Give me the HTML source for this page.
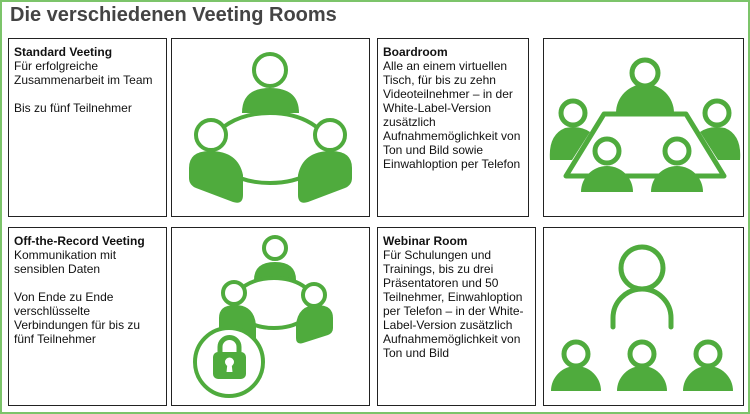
<!DOCTYPE html>
<html><head><meta charset="utf-8"><style>
body{margin:0;width:750px;height:414px;background:#fff;position:relative;overflow:hidden;font-family:"Liberation Sans",sans-serif;}
.frame{position:absolute;left:0;top:0;width:746px;height:410px;border:2px solid #7cc46a;}
h1{position:absolute;left:10px;top:4px;margin:0;font-size:20px;font-weight:bold;color:#444;}
.box{position:absolute;border:1.5px solid #222;box-sizing:border-box;background:#fff;}
.t{font-size:12px;line-height:14px;color:#111;padding:6px 4px 0 5px;}
.t b{font-weight:bold;}
svg{position:absolute;left:0;top:0;}
</style></head><body>
<div class="frame"></div>
<h1>Die verschiedenen Veeting Rooms</h1>
<div class="box t" style="left:8px;top:38px;width:159px;height:179px"><b>Standard Veeting</b><br>Für erfolgreiche<br>Zusammenarbeit im Team<br><br>Bis zu fünf Teilnehmer</div>
<div class="box" style="left:171px;top:38px;width:199px;height:179px"></div>
<div class="box t" style="left:377px;top:38px;width:152px;height:179px"><b>Boardroom</b><br>Alle an einem virtuellen<br>Tisch, für bis zu zehn<br>Videoteilnehmer – in der<br>White-Label-Version<br>zusätzlich<br>Aufnahmemöglichkeit von<br>Ton und Bild sowie<br>Einwahloption per Telefon</div>
<div class="box" style="left:543px;top:38px;width:201px;height:179px"></div>
<div class="box t" style="left:8px;top:227px;width:159px;height:179px"><b>Off-the-Record Veeting</b><br>Kommunikation mit<br>sensiblen Daten<br><br>Von Ende zu Ende<br>verschlüsselte<br>Verbindungen für bis zu<br>fünf Teilnehmer</div>
<div class="box" style="left:171px;top:227px;width:199px;height:179px"></div>
<div class="box t" style="left:377px;top:227px;width:159px;height:179px"><b>Webinar Room</b><br>Für Schulungen und<br>Trainings, bis zu drei<br>Präsentatoren und 50<br>Teilnehmer, Einwahloption<br>per Telefon – in der White-<br>Label-Version zusätzlich<br>Aufnahmemöglichkeit von<br>Ton und Bild</div>
<div class="box" style="left:543px;top:227px;width:201px;height:179px"></div>

<svg width="750" height="414" fill="#4fab3d" stroke="#4fab3d">
<g>
<path d="M242 113 Q242 88 270 88 Q299 88 299 113 Z" stroke="none"/>
<ellipse cx="270" cy="148" rx="58" ry="35" fill="none" stroke-width="4"/>
<circle cx="270" cy="70" r="16" fill="#fff" stroke-width="4"/>
<path d="M189 168 Q189 151 210 151 Q238 151 243 175 L243 195 Q243 205 233 202 L196 188 Q189 185 189 178 Z" stroke="none"/>
<path d="M352 168 Q352 151 331 151 Q303 151 298 175 L298 195 Q298 205 308 202 L345 188 Q352 185 352 178 Z" stroke="none"/>
<circle cx="211" cy="135" r="15" fill="#fff" stroke-width="4"/>
<circle cx="330" cy="135" r="15" fill="#fff" stroke-width="4"/>
</g>
<g>
<path d="M616 113 A29 29 0 0 1 674 113 Z" stroke="none"/>
<circle cx="645" cy="73" r="13" fill="#fff" stroke-width="5"/>
<path d="M550 160 Q548 135 565 128 Q580 125 590 132 L572 160 Z" stroke="none"/>
<path d="M740 160 Q742 135 725 128 Q710 125 700 132 L718 160 Z" stroke="none"/>
<circle cx="573" cy="113" r="12" fill="#fff" stroke-width="5"/>
<circle cx="717" cy="113" r="12" fill="#fff" stroke-width="5"/>
<polygon points="604,114 686,114 724,176 566,176" fill="none" stroke-width="5" stroke-linejoin="round"/>
<path d="M581 192 A26 26 0 0 1 633 192 Z" stroke="none"/>
<path d="M651 192 A26 26 0 0 1 703 192 Z" stroke="none"/>
<circle cx="607" cy="151" r="12" fill="#fff" stroke-width="5"/>
<circle cx="677" cy="151" r="12" fill="#fff" stroke-width="5"/>
</g>
<g>
<path d="M254 280 Q254 262 275 262 Q296 262 296 280 Z" stroke="none"/>
<circle cx="275" cy="248" r="11" fill="#fff" stroke-width="4"/>
<ellipse cx="274" cy="303" rx="40" ry="25" fill="none" stroke-width="4"/>
<path d="M219 318 Q219 305 235 305 Q254 305 256 325 L256 345 L219 345 Z" stroke="none"/>
<path d="M333 318 Q333 305 317 305 Q298 305 296 325 L296 338 Q296 345 303 343 L328 335 Q333 333 333 328 Z" stroke="none"/>
<circle cx="234" cy="293" r="11" fill="#fff" stroke-width="4"/>
<circle cx="314" cy="295" r="11" fill="#fff" stroke-width="4"/>
<circle cx="229" cy="362" r="34" fill="#fff" stroke-width="4"/>
<path d="M220 353 V347 A9.5 9.5 0 0 1 239 347 V353" fill="none" stroke-width="5"/>
<rect x="213" y="352" width="33" height="27" rx="5" stroke="none"/>
<circle cx="229.5" cy="362" r="4.5" fill="#fff" stroke="none"/>
<path d="M227.5 363 L226.5 372 L232.5 372 L231.5 363 Z" fill="#fff" stroke="none"/>
</g>
<g>
<circle cx="642" cy="268" r="21" fill="#fff" stroke-width="5"/>
<path d="M613 327 V318 A29 29 0 0 1 671 318 V327" fill="none" stroke-width="5" stroke-linecap="round"/>
<path d="M551 391 A25 25 0 0 1 601 391 Z" stroke="none"/>
<path d="M617 391 A25 25 0 0 1 667 391 Z" stroke="none"/>
<path d="M683 391 A25 25 0 0 1 733 391 Z" stroke="none"/>
<circle cx="576" cy="354" r="12" fill="#fff" stroke-width="5"/>
<circle cx="642" cy="354" r="12" fill="#fff" stroke-width="5"/>
<circle cx="708" cy="354" r="12" fill="#fff" stroke-width="5"/>
</g>
</svg>
</body></html>
